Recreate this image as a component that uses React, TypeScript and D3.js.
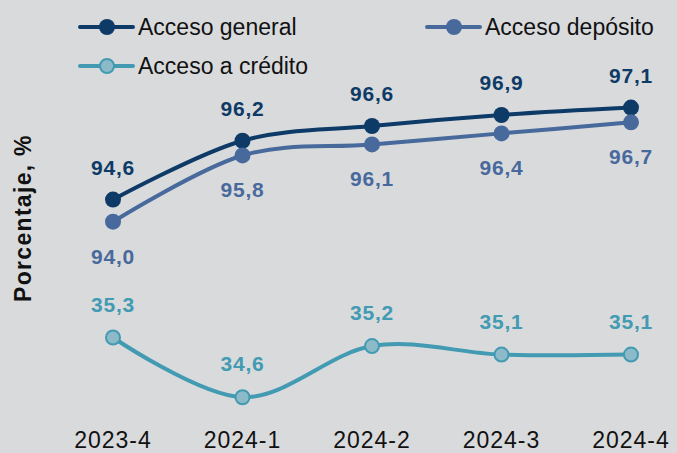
import * as d3 from 'd3';

// Chart data
const categories: string[] = ['2023-4', '2024-1', '2024-2', '2024-3', '2024-4'];
const accesoGeneral: number[] = [94.6, 96.2, 96.6, 96.9, 97.1];
const accesoDeposito: number[] = [94.0, 95.8, 96.1, 96.4, 96.7];
const accesoCredito: number[] = [35.3, 34.6, 35.2, 35.1, 35.1];

const width = 677;
const height = 453;
const bg = '#d9dadc';
const font = '"Liberation Sans", Arial, sans-serif';

const colGeneral = '#0d3a66';
const colDeposito = '#48699c';
const colCredito = '#429bb2';
const fillCredito = '#8dbac9';

const locale = d3.formatLocale({ decimal: ',', thousands: '.', grouping: [3], currency: ['', ''] });
const fmt = locale.format('.1f');

interface Series {
  name: string;
  values: number[];
  color: string;
  fill: string;
  axis: 'main' | 'low';
  labelDy: number;
}

const series: Series[] = [
  { name: 'Acceso general', values: accesoGeneral, color: colGeneral, fill: colGeneral, axis: 'main', labelDy: -25 },
  { name: 'Acceso depósito', values: accesoDeposito, color: colDeposito, fill: colDeposito, axis: 'main', labelDy: 42 },
  { name: 'Acceso a crédito', values: accesoCredito, color: colCredito, fill: fillCredito, axis: 'low', labelDy: -26 },
];

const App: React.FC = () => {
  const x = d3.scalePoint<string>().domain(categories).range([113, 631]);

  // main axis for general / deposit, secondary for credit
  const yMain = d3.scaleLinear().domain([93, 98]).range([258.5, 74.5]);
  const yLow = d3.scaleLinear().domain([34.4, 35.6]).range([414.3, 311.9]);

  const legend = [
    { s: series[0], x: 80, y: 27 },
    { s: series[1], x: 427, y: 27 },
    { s: series[2], x: 80, y: 66 },
  ];

  return (
    <div style={{ position: 'fixed', left: 0, top: 0 }}>
      <svg width={width} height={height} style={{ display: 'block', background: bg }}>
        <rect width={width} height={height} fill={bg} />

        {/* faint category axis */}
        <line x1={48} x2={676} y1={410.5} y2={410.5} stroke="#dedcd9" strokeWidth={1} />

        {series.map((s) => {
          const y = s.axis === 'main' ? yMain : yLow;
          const line = d3
            .line<number>()
            .x((_, i) => x(categories[i]) ?? 0)
            .y((d) => y(d))
            .curve(d3.curveCardinal.tension(0));
          return (
            <g key={s.name}>
              <path d={line(s.values) ?? ''} fill="none" stroke={s.color} strokeWidth={4} strokeLinecap="round" />
              {s.values.map((v, i) => (
                <circle
                  key={i}
                  cx={x(categories[i])}
                  cy={y(v)}
                  r={s.axis === 'low' ? 7 : 8}
                  fill={s.fill}
                  stroke={s.color}
                  strokeWidth={s.axis === 'low' ? 2 : 0}
                />
              ))}
              {s.values.map((v, i) => (
                <text
                  key={'l' + i}
                  x={x(categories[i])}
                  y={y(v) + s.labelDy}
                  textAnchor="middle"
                  fontFamily={font}
                  fontWeight="bold"
                  fontSize={21}
                  letterSpacing={0.8}
                  fill={s.color}
                >
                  {fmt(v)}
                </text>
              ))}
            </g>
          );
        })}

        {/* x tick labels */}
        {categories.map((c) => (
          <text
            key={c}
            x={x(c)}
            y={448}
            textAnchor="middle"
            fontFamily={font}
            fontSize={23}
            letterSpacing={1}
            fill="#111"
          >
            {c}
          </text>
        ))}

        {/* y axis title */}
        <text
          transform="translate(31,218) rotate(-90)"
          textAnchor="middle"
          fontFamily={font}
          fontWeight="bold"
          fontSize={23}
          letterSpacing={1.3}
          fill="#111"
        >
          Porcentaje, %
        </text>

        {/* legend */}
        {legend.map(({ s, x: lx, y: ly }) => (
          <g key={s.name}>
            <line x1={lx} x2={lx + 53} y1={ly} y2={ly} stroke={s.color} strokeWidth={4} strokeLinecap="round" />
            <circle
              cx={lx + 27}
              cy={ly}
              r={s.axis === 'low' ? 7 : 8}
              fill={s.fill}
              stroke={s.color}
              strokeWidth={s.axis === 'low' ? 2 : 0}
            />
            <text x={lx + 58} y={ly + 8} fontFamily={font} fontSize={23} fill="#111">
              {s.name}
            </text>
          </g>
        ))}
      </svg>
    </div>
  );
};

export default App;
